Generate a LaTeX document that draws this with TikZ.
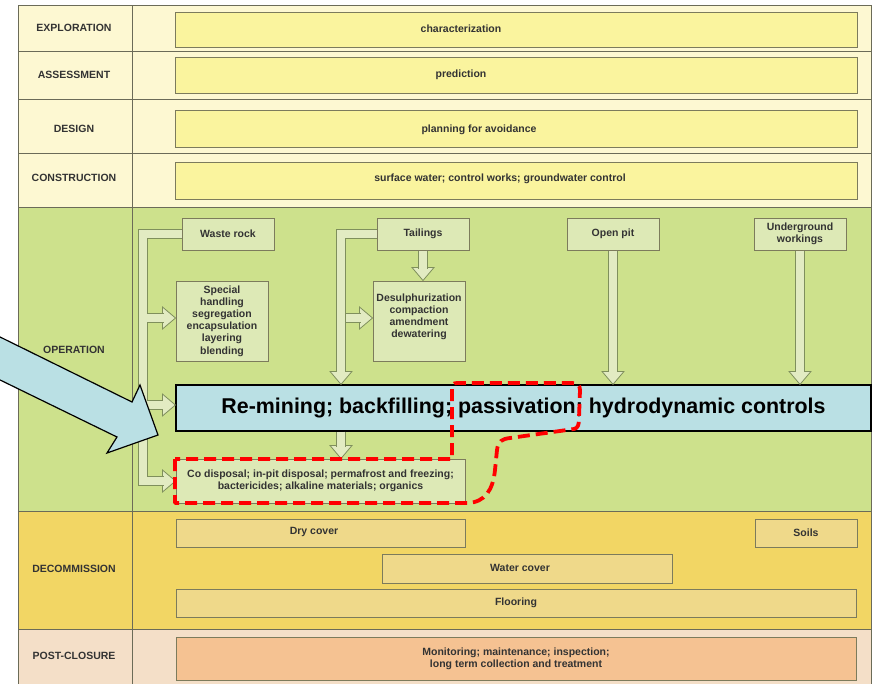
\documentclass[tikz,border=0pt]{standalone}
\usepackage{fontspec}
\setmainfont{Liberation Sans}
\usetikzlibrary{calc}

\definecolor{rowpale}{HTML}{FDF8D2}
\definecolor{boxyellow}{HTML}{FAF49E}
\definecolor{rowgreen}{HTML}{CDE18C}
\definecolor{boxgreen}{HTML}{DDE9B6}
\definecolor{rowgold}{HTML}{F2D664}
\definecolor{boxgold}{HTML}{EFD98A}
\definecolor{rowpeach}{HTML}{F4DFC8}
\definecolor{boxpeach}{HTML}{F5C292}
\definecolor{bluefill}{HTML}{BAE0E4}
\definecolor{pipefill}{HTML}{E2EBC2}
\definecolor{pipeline}{HTML}{7F8F5C}
\definecolor{boxline}{HTML}{7C7B5C}
\definecolor{tableline}{HTML}{6B6B58}
\definecolor{textgrey}{HTML}{333333}

\newcommand{\headright}[1]{\filldraw[arrowhead] #1 -- ++(-13,-11) -- ++(0,22) -- cycle;}
\newcommand{\headdown}[1]{\filldraw[arrowhead] #1 -- ++(-11,-13) -- ++(22,0) -- cycle;}

\begin{document}
\begin{tikzpicture}
  [x=1pt,y=-1pt,
   rowlabel/.style={font=\fontsize{10.5}{12}\selectfont\bfseries,text=textgrey},
   boxtext/.style={font=\fontsize{10.5}{12.2}\selectfont\bfseries,text=textgrey,align=center,inner sep=0pt},
   stagebox/.style={draw=boxline,line width=1pt,inner sep=0pt,boxtext},
   topbox/.style={stagebox,fill=boxyellow,minimum width=682pt},
   opbox/.style={stagebox,fill=boxgreen},
   decbox/.style={stagebox,fill=boxgold,minimum height=28pt},
   pipe/.style={draw=pipeline,line width=0.8pt,double=pipefill,double distance=7.5pt},
   arrowhead/.style={fill=pipefill,draw=pipeline,line width=0.8pt,line join=miter},
   highlight/.style={draw=red,line width=3.8pt,dash pattern=on 12pt off 6pt,line join=round}]
  \useasboundingbox (0,0) rectangle (875,683);

  % table rows
  \foreach \top/\bot/\col in {5/51/rowpale,51/99/rowpale,99/153/rowpale,153/207/rowpale,
      207/511/rowgreen,511/629/rowgold,629/695/rowpeach}
    \filldraw[fill=\col,draw=tableline,line width=1pt] (18,\top) rectangle (871,\bot);
  \draw[tableline,line width=1pt] (132,5) -- (132,695);

  \node[rowlabel] (L_expl) at (74,28) {EXPLORATION};
  \node[rowlabel] (L_asse) at (74,75) {ASSESSMENT};
  \node[rowlabel] (L_desi) at (74,129) {DESIGN};
  \node[rowlabel] (L_cons) at (74,178) {CONSTRUCTION};
  \node[rowlabel] (L_oper) at (74,350) {OPERATION};
  \node[rowlabel] (L_deco) at (74,569) {DECOMMISSION};
  \node[rowlabel] (L_post) at (74,656) {POST-CLOSURE};

  \node[topbox,minimum height=35pt] (char) at (516,29.5) {};
  \node[topbox,minimum height=36pt] (pred) at (516,75) {};
  \node[topbox,minimum height=37pt] (plan) at (516,128.5) {};
  \node[topbox,minimum height=37pt] (surf) at (516,180.5) {};
  \node[boxtext] (char_t) at (461,29) {characterization};
  \node[boxtext] (pred_t) at (461,75) {prediction};
  \node[boxtext] (plan_t) at (479,130) {planning for avoidance};
  \node[boxtext] (surf_t) at (500,179) {surface water; control works; groundwater control};

  % operation
  \node[opbox,minimum width=92pt,minimum height=32pt] (WR) at (228,234) {Waste rock};
  \node[opbox,minimum width=92pt,minimum height=32pt] (TA) at (423,234) {Tailings};
  \node[opbox,minimum width=92pt,minimum height=32pt] (OP) at (613,234) {Open pit};
  \node[opbox,minimum width=92pt,minimum height=32pt] (UG) at (800,234) {Underground\\workings};
  \node[opbox,minimum width=92pt,minimum height=80pt] (SH) at (222,321)
    {Special\\handling\\segregation\\encapsulation\\layering\\blending};
  \node[opbox,minimum width=92pt,minimum height=80pt] (DS) at (419,321) {};
  \node[boxtext] (DS_t) at (419,317) {Desulphurization\\compaction\\amendment\\dewatering};
  \node[draw=black,line width=1.2pt,fill=bluefill,inner sep=0pt,minimum width=695pt,minimum height=46pt,
    font=\fontsize{21.4}{25}\selectfont\bfseries] (RM) at (523.5,408)
    {Re-mining; backfilling; passivation; hydrodynamic controls};
  \node[opbox,minimum width=289pt,minimum height=44pt] (CO) at (320.5,481)
    {Co disposal; in-pit disposal; permafrost and freezing;\\bactericides; alkaline materials; organics};

  % decommission and post-closure
  \node[decbox,minimum width=289pt] (DRY) at (320.5,533) {};
  \node[boxtext] (DRY_t) at (314,532) {Dry cover};
  \node[decbox,minimum width=102pt] (SOIL) at (806,533) {Soils};
  \node[decbox,minimum width=290pt,minimum height=29pt] (WAT) at (527,568.5) {};
  \node[boxtext] (WAT_t) at (520,568) {Water cover};
  \node[decbox,minimum width=680pt] (FLO) at (516,603) {Flooring};
  \node[stagebox,fill=boxpeach,minimum width=680pt,minimum height=43pt] (MON) at (516,658.5)
    {Monitoring; maintenance; inspection;\\long term collection and treatment};

  % block arrows
  \coordinate (wx) at (143,0);
  \coordinate (tx) at (341,0);
  \headright{(CO.west)}
  \draw[pipe,shorten >=12pt] (WR.west) -| (wx |- CO.west) -- (CO.west);
  \foreach \tgt/\trunk in {SH/wx,RM/wx,DS/tx}{
    \headright{($(\tgt.west)+(0,-3)$)}
    \draw[pipe,shorten >=12pt] ($(\trunk |- \tgt.west)+(3.75,-3)$) -- ($(\tgt.west)+(0,-3)$);
  }
  \headdown{(tx |- RM.north)}
  \draw[pipe,shorten >=12pt] (TA.west) -| (tx |- RM.north);
  \foreach \from/\to in {TA/DS,OP/RM,UG/RM}{
    \headdown{(\from.south |- \to.north)}
    \draw[pipe,shorten >=12pt] (\from.south) -- (\from.south |- \to.north);
  }
  \headdown{(tx |- CO.north)}
  \draw[pipe,shorten >=12pt] (tx |- RM.south) -- (tx |- CO.north);

  % pointer and highlight
  \filldraw[fill=bluefill,draw=black,line width=1.2pt,line join=miter]
    (-5,334.5) -- (132,402) -- (140,385) -- (158,435) -- (107,453) -- (117,437) -- (-5,377.5);
  \draw[highlight] (175,459) -- (175,503) -- (468,503)
    .. controls (485,502) and (493,490) .. (495,470) -- (497,450)
    .. controls (498,441) and (502,439) .. (510,438) -- (574,429)
    .. controls (578,428) and (579,425) .. (579,418) -- (580,390)
    .. controls (580,385) and (577,383) .. (572,383) -- (457,383)
    .. controls (453,383) and (452,385) .. (452,389) -- (452,459) -- cycle;
\end{tikzpicture}
\end{document}
